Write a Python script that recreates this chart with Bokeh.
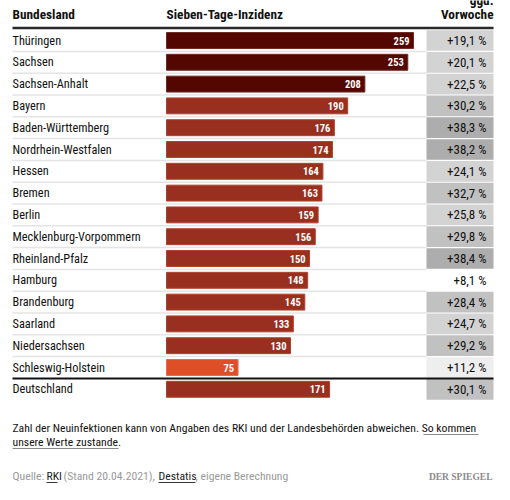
from bokeh.plotting import figure
from bokeh.models import Range1d, ColumnDataSource, Label
from bokeh.embed import file_html
from bokeh.resources import INLINE
from bokeh.core.properties import value

states = ["Thüringen", "Sachsen", "Sachsen-Anhalt", "Bayern", "Baden-Württemberg",
          "Nordrhein-Westfalen", "Hessen", "Bremen", "Berlin", "Mecklenburg-Vorpommern",
          "Rheinland-Pfalz", "Hamburg", "Brandenburg", "Saarland", "Niedersachsen",
          "Schleswig-Holstein", "Deutschland"]
incidence = [259, 253, 208, 190, 176, 174, 164, 163, 159, 156, 150, 148, 145, 133, 130, 75, 171]
change = [19.1, 20.1, 22.5, 30.2, 38.3, 38.2, 24.1, 32.7, 25.8, 29.8, 38.4, 8.1, 28.4, 24.7, 29.2, 11.2, 30.1]

header_left = "Bundesland"
header_mid = "Sieben-Tage-Inzidenz"
header_right_top = "ggü."
header_right = "Vorwoche"
note_line1 = "Zahl der Neuinfektionen kann von Angaben des RKI und der Landesbehörden abweichen. "
note_link1 = "So kommen"
note_link2 = "unsere Werte zustande"
source_parts = ["Quelle:", "RKI", "(Stand 20.04.2021),", "Destatis", ", eigene Berechnung"]
source_colors = ["#9a9a9a", "#222222", "#9a9a9a", "#222222", "#9a9a9a"]
brand = "DER SPIEGEL"

FONT = "Roboto Condensed"
W, H = 502, 492
X0 = 166.0            # canvas x of value 0
S = 247.0 / 259.0     # px per unit
ROW0 = 40.0           # canvas y of first row center
PITCH = 21.8


def px(cx):
    return (cx - X0) / S


def ry(cy):
    return (cy - ROW0) / PITCH


def bar_color(v):
    if v >= 200:
        return "#540700"
    if v >= 100:
        return "#99301f"
    return "#df4f27"


def bar_edge(v):
    if v >= 200:
        return "#6e2a22"
    if v >= 100:
        return "#b0412c"
    return "#ea6a44"


def gray(c):
    if c < 10:
        return "#ffffff"
    if c < 15:
        return "#eeeeee"
    if c < 27:
        return "#d3d3d3"
    if c < 35:
        return "#c1c1c1"
    return "#adadad"


def fmt(c):
    return "+" + ("%.1f" % c).replace(".", ",") + " %"


n = len(states)
rows = list(range(n))
src = ColumnDataSource(dict(
    y=rows, name=states, inc=incidence, inc_txt=[str(v) for v in incidence],
    chg_txt=[fmt(c) for c in change],
    bar_col=[bar_color(v) for v in incidence], bar_edge=[bar_edge(v) for v in incidence],
))

p = figure(width=W, height=H, output_backend="svg", toolbar_location=None,
           x_range=Range1d(px(0), px(W)), y_range=Range1d(ry(H), ry(0)),
           x_axis_location=None, y_axis_location=None, min_border=0)
p.grid.visible = False
p.outline_line_color = None
p.background_fill_color = "white"
p.border_fill_color = "white"

# row separators
seps = [i + 0.5 for i in range(n - 2)]
p.segment(x0=[px(12)] * len(seps), x1=[px(426)] * len(seps), y0=seps, y1=seps,
          line_color="#e4e4e4", line_width=1.5)

# gray change cells
gsrc = ColumnDataSource(dict(top=[r - 0.475 for r in rows], bottom=[r + 0.475 for r in rows],
                             col=[gray(c) for c in change]))
p.quad(left=px(426), right=px(493), top="top", bottom="bottom", fill_color="col",
       line_color=None, source=gsrc)

# bars
p.hbar(y="y", left=0, right="inc", height=0.73, fill_color="bar_col", line_color="bar_edge",
       line_width=1, source=src)

# value labels inside bars
p.text(x="inc", y="y", text="inc_txt", x_offset=-4, text_align="right", text_baseline="middle",
       text_color="white", text_font=value(FONT), text_font_style="bold", text_font_size="10.5px",
       source=src)

# state names
p.text(x=px(12), y="y", text="name", text_align="left", text_baseline="middle",
       text_color="#111111", text_font=value(FONT), text_font_size="12.3px", source=src)

# change values
p.text(x=px(486), y="y", text="chg_txt", text_align="right", text_baseline="middle",
       text_color="#111111", text_font=value(FONT), text_font_size="13px", source=src)

# header rule and Deutschland rule
p.segment(x0=[px(12)], x1=[px(493)], y0=[ry(27.5)], y1=[ry(27.5)], line_color="#2a2a2a", line_width=2.5)
p.segment(x0=[px(12)], x1=[px(493)], y0=[n - 1.5], y1=[n - 1.5], line_color="#111111", line_width=2)


def label(x, y, text, align="left", color="#111111", size="12px", style="normal",
          font=FONT, baseline="middle"):
    p.add_layout(Label(x=px(x), y=ry(y), text=text, text_align=align, text_baseline=baseline,
                       text_color=color, text_font=font, text_font_size=size,
                       text_font_style=style))


# headers
label(12, 14, header_left, style="bold", size="13.3px")
label(166, 14, header_mid, style="bold", size="13.3px")
label(493, 14, header_right, align="right", style="bold", size="13.3px")
label(493, 0, header_right_top, align="right", style="bold", size="13.3px")

# note
label(12, 427, note_line1 + note_link1, size="11.7px")
label(12, 441, note_link2 + ".", size="11.7px")
p.segment(x0=[px(423), px(12)], x1=[px(478), px(118)], y0=[ry(434), ry(448)], y1=[ry(434), ry(448)],
          line_color="#8a8a8a", line_width=1)

# source line
xs = [12, 46, 63, 158, 195]
for t, c, x in zip(source_parts, source_colors, xs):
    label(x, 475, t, size="11.7px", color=c)
p.segment(x0=[px(46), px(158)], x1=[px(57), px(195)], y0=[ry(482), ry(482)], y1=[ry(482), ry(482)],
          line_color="#333333", line_width=1)

label(492, 476, brand, align="right", size="9.5px", color="#8a8a8a", style="bold",
      font="Liberation Serif")

open("out.html", "w").write(file_html(p, INLINE))
